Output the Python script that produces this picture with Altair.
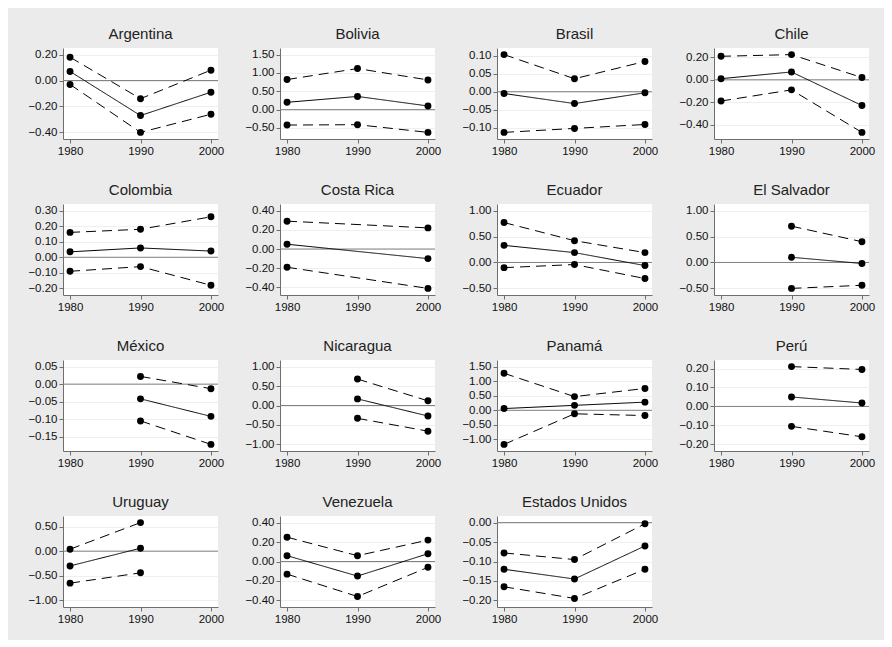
import altair as alt
import pandas as pd

countries = ["Argentina", "Bolivia", "Brasil", "Chile", "Colombia", "Costa Rica",
             "Ecuador", "El Salvador", "México", "Nicaragua", "Panamá", "Perú",
             "Uruguay", "Venezuela", "Estados Unidos"]
years = [1980, 1990, 2000]

upper = [
    [0.18, -0.14, 0.08],
    [0.82, 1.12, 0.81],
    [0.103, 0.036, 0.084],
    [0.21, 0.225, 0.02],
    [0.16, 0.18, 0.26],
    [0.29, None, 0.22],
    [0.77, 0.42, 0.19],
    [None, 0.70, 0.40],
    [None, 0.022, -0.013],
    [None, 0.68, 0.12],
    [1.27, 0.47, 0.75],
    [None, 0.21, 0.195],
    [0.04, 0.58, None],
    [0.25, 0.06, 0.22],
    [-0.078, -0.095, -0.003],
]
center = [
    [0.07, -0.27, -0.09],
    [0.20, 0.36, 0.10],
    [-0.005, -0.033, -0.003],
    [0.01, 0.07, -0.23],
    [0.035, 0.06, 0.04],
    [0.05, None, -0.10],
    [0.33, 0.19, -0.06],
    [None, 0.10, -0.02],
    [None, -0.042, -0.092],
    [None, 0.17, -0.27],
    [0.06, 0.17, 0.28],
    [None, 0.05, 0.018],
    [-0.30, 0.06, None],
    [0.06, -0.15, 0.08],
    [-0.12, -0.145, -0.06],
]
lower = [
    [-0.03, -0.40, -0.26],
    [-0.42, -0.41, -0.62],
    [-0.113, -0.102, -0.091],
    [-0.19, -0.09, -0.47],
    [-0.09, -0.06, -0.18],
    [-0.19, None, -0.41],
    [-0.10, -0.04, -0.31],
    [None, -0.50, -0.44],
    [None, -0.105, -0.172],
    [None, -0.33, -0.66],
    [-1.17, -0.12, -0.18],
    [None, -0.105, -0.16],
    [-0.65, -0.44, None],
    [-0.13, -0.36, -0.06],
    [-0.165, -0.195, -0.12],
]
y_ticks = [
    [-0.4, -0.2, 0, 0.2],
    [-0.5, 0, 0.5, 1, 1.5],
    [-0.1, -0.05, 0, 0.05, 0.1],
    [-0.4, -0.2, 0, 0.2],
    [-0.2, -0.1, 0, 0.1, 0.2, 0.3],
    [-0.4, -0.2, 0, 0.2, 0.4],
    [-0.5, 0, 0.5, 1],
    [-0.5, 0, 0.5, 1],
    [-0.15, -0.1, -0.05, 0, 0.05],
    [-1, -0.5, 0, 0.5, 1],
    [-1, -0.5, 0, 0.5, 1, 1.5],
    [-0.2, -0.1, 0, 0.1, 0.2],
    [-1, -0.5, 0, 0.5],
    [-0.4, -0.2, 0, 0.2, 0.4],
    [-0.2, -0.15, -0.1, -0.05, 0],
]

FONT = "Liberation Sans"
series_names = ["upper", "center", "lower"]


def panel(i):
    rows = []
    for name, vals in zip(series_names, [upper[i], center[i], lower[i]]):
        for yr, v in zip(years, vals):
            if v is not None:
                rows.append({"year": yr, "series": name, "value": v})
    df = pd.DataFrame(rows)
    ticks = y_ticks[i]
    lo = min(min(ticks), df["value"].min())
    hi = max(max(ticks), df["value"].max())
    pad = 0.085 * (hi - lo)
    ysc = alt.Scale(domain=[lo - pad, hi + pad], nice=False, zero=False)
    xsc = alt.Scale(domain=[1979, 2001], nice=False, zero=False)
    yaxis = alt.Axis(values=ticks, format=".2f", title=None, grid=True)
    xaxis = alt.Axis(values=years, format="d", title=None, grid=False)

    zero = alt.Chart(pd.DataFrame({"value": [0]})).mark_rule(
        color="#808080", strokeWidth=1
    ).encode(y=alt.Y("value:Q", scale=ysc, axis=yaxis))

    base = alt.Chart(df).encode(
        x=alt.X("year:Q", scale=xsc, axis=xaxis),
        y=alt.Y("value:Q", scale=ysc, axis=yaxis),
    )
    lines = base.mark_line(color="black", strokeWidth=1).encode(
        strokeDash=alt.StrokeDash(
            "series:N",
            scale=alt.Scale(domain=series_names, range=[[10, 6], [1, 0], [10, 6]]),
            legend=None,
        ),
        detail="series:N",
    )
    pts = base.mark_circle(color="black", size=48, opacity=1)
    return alt.layer(zero, lines, pts).properties(
        width=155, height=91,
        title=alt.TitleParams(countries[i], anchor="middle"),
    )


chart = alt.concat(
    *[panel(i) for i in range(len(countries))],
    columns=4,
    spacing={"row": 65, "column": 62},
    bounds="flush",
).properties(
    background="#ebebeb",
    padding={"left": 19, "top": 19, "right": 9, "bottom": 15},
).configure_view(
    fill="white", stroke=None
).configure_axis(
    labelFont=FONT, labelFontSize=11.5, labelColor="#111",
    domainColor="#6e6e6e", tickColor="#6e6e6e", tickSize=4, labelPadding=2,
    gridColor="#efefef", domainWidth=1,
).configure_title(
    font=FONT, fontSize=15, fontWeight="normal", color="#222", offset=6,
)

chart.save("out.html", embed_options={"renderer": "svg", "actions": False})
